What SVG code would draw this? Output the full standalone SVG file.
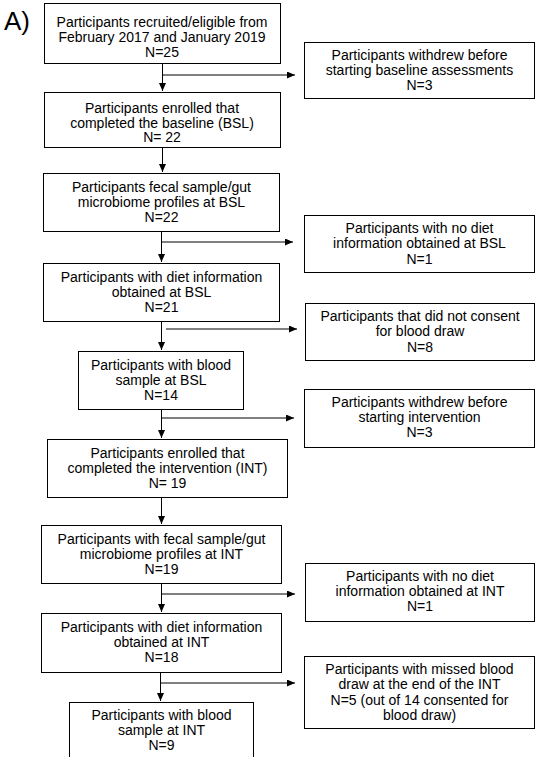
<svg xmlns="http://www.w3.org/2000/svg" width="535" height="757" viewBox="0 0 535 757">
<style>
.box{fill:#fff;stroke:#000;stroke-width:1}
.t{font-family:"Liberation Sans",Arial,sans-serif;font-size:14px;fill:#000;text-anchor:middle}
.c{stroke:#000;stroke-width:1;fill:none}
</style>
<defs>
<marker id="ah" markerUnits="userSpaceOnUse" markerWidth="9" markerHeight="8" refX="8" refY="3.5" orient="auto">
<path d="M0,0 L8,3.5 L0,7 z" fill="#000"/>
</marker>
</defs>
<rect width="535" height="757" fill="#fff"/>
<text x="4" y="30" font-family="&quot;Liberation Sans&quot;,Arial,sans-serif" font-size="26">A)</text>
<g id="connectors">
<line class="c" x1="162.5" y1="63" x2="162.5" y2="91" marker-end="url(#ah)"/>
<line class="c" x1="162.5" y1="75" x2="295" y2="75" marker-end="url(#ah)"/>
<line class="c" x1="162.5" y1="148" x2="162.5" y2="172" marker-end="url(#ah)"/>
<line class="c" x1="161.5" y1="232" x2="161.5" y2="262" marker-end="url(#ah)"/>
<line class="c" x1="161.5" y1="242" x2="293" y2="242" marker-end="url(#ah)"/>
<line class="c" x1="161.5" y1="322" x2="161.5" y2="350" marker-end="url(#ah)"/>
<line class="c" x1="166" y1="329" x2="297" y2="329" marker-end="url(#ah)"/>
<line class="c" x1="161.5" y1="410" x2="161.5" y2="438" marker-end="url(#ah)"/>
<line class="c" x1="161.5" y1="418" x2="294" y2="418" marker-end="url(#ah)"/>
<line class="c" x1="161.5" y1="498" x2="161.5" y2="524" marker-end="url(#ah)"/>
<line class="c" x1="161.5" y1="584" x2="161.5" y2="612" marker-end="url(#ah)"/>
<line class="c" x1="161.5" y1="594" x2="295" y2="594" marker-end="url(#ah)"/>
<line class="c" x1="160.5" y1="673" x2="160.5" y2="701" marker-end="url(#ah)"/>
<line class="c" x1="160.5" y1="683" x2="295" y2="683" marker-end="url(#ah)"/>
</g>
<g id="n1"><rect class="box" x="44.5" y="3.5" width="236" height="60"/>
<text class="t" x="162" y="27">Participants recruited/eligible from</text>
<text class="t" x="162" y="42">February 2017 and January 2019</text>
<text class="t" x="162" y="56.5">N=25</text></g>
<g id="n2"><rect class="box" x="44.5" y="92.5" width="236" height="55"/>
<text class="t" x="162" y="112.5">Participants enrolled that</text>
<text class="t" x="162" y="127.5">completed the baseline (BSL)</text>
<text class="t" x="162" y="142">N= 22</text></g>
<g id="n3"><rect class="box" x="43.5" y="173.5" width="236" height="58"/>
<text class="t" x="161.5" y="192">Participants fecal sample/gut</text>
<text class="t" x="161.5" y="207">microbiome profiles at BSL</text>
<text class="t" x="161.5" y="222">N=22</text></g>
<g id="n4"><rect class="box" x="43.5" y="263.5" width="236" height="58"/>
<text class="t" x="161.5" y="282">Participants with diet information</text>
<text class="t" x="161.5" y="297">obtained at BSL</text>
<text class="t" x="161.5" y="312">N=21</text></g>
<g id="n5"><rect class="box" x="78.5" y="351.5" width="165" height="58"/>
<text class="t" x="161" y="370">Participants with blood</text>
<text class="t" x="161" y="385">sample at BSL</text>
<text class="t" x="161" y="400">N=14</text></g>
<g id="n6"><rect class="box" x="47.5" y="439.5" width="240" height="58"/>
<text class="t" x="167.5" y="458">Participants enrolled that</text>
<text class="t" x="167.5" y="473">completed the intervention (INT)</text>
<text class="t" x="167.5" y="488">N= 19</text></g>
<g id="n7"><rect class="box" x="41.5" y="525.5" width="240" height="58"/>
<text class="t" x="161.5" y="544">Participants with fecal sample/gut</text>
<text class="t" x="161.5" y="559">microbiome profiles at INT</text>
<text class="t" x="161.5" y="574">N=19</text></g>
<g id="n8"><rect class="box" x="41.5" y="613.5" width="240" height="59"/>
<text class="t" x="161.5" y="632">Participants with diet information</text>
<text class="t" x="161.5" y="647">obtained at INT</text>
<text class="t" x="161.5" y="662">N=18</text></g>
<g id="n9"><rect class="box" x="69.5" y="702.5" width="184" height="60"/>
<text class="t" x="161.5" y="720">Participants with blood</text>
<text class="t" x="161.5" y="735">sample at INT</text>
<text class="t" x="161.5" y="750">N=9</text></g>
<g id="r1"><rect class="box" x="304.5" y="42.5" width="230" height="56"/>
<text class="t" x="419.5" y="60">Participants withdrew before</text>
<text class="t" x="419.5" y="75">starting baseline assessments</text>
<text class="t" x="419.5" y="90">N=3</text></g>
<g id="r2"><rect class="box" x="304.5" y="215.5" width="230" height="57"/>
<text class="t" x="419.5" y="233">Participants with no diet</text>
<text class="t" x="419.5" y="248">information obtained at BSL</text>
<text class="t" x="419.5" y="263.5">N=1</text></g>
<g id="r3"><rect class="box" x="305.5" y="303.5" width="229" height="57"/>
<text class="t" x="420" y="321">Participants that did not consent</text>
<text class="t" x="420" y="336">for blood draw</text>
<text class="t" x="420" y="351.5">N=8</text></g>
<g id="r4"><rect class="box" x="304.5" y="389.5" width="230" height="58"/>
<text class="t" x="419.5" y="407">Participants withdrew before</text>
<text class="t" x="419.5" y="422">starting intervention</text>
<text class="t" x="419.5" y="437">N=3</text></g>
<g id="r5"><rect class="box" x="305.5" y="563.5" width="229" height="58"/>
<text class="t" x="420" y="581">Participants with no diet</text>
<text class="t" x="420" y="596">information obtained at INT</text>
<text class="t" x="420" y="611">N=1</text></g>
<g id="r6"><rect class="box" x="304.5" y="656.5" width="230" height="72"/>
<text class="t" x="419.5" y="673.5">Participants with missed blood</text>
<text class="t" x="419.5" y="689">draw at the end of the INT</text>
<text class="t" x="419.5" y="704.5">N=5 (out of 14 consented for</text>
<text class="t" x="419.5" y="720">blood draw)</text></g>
</svg>
